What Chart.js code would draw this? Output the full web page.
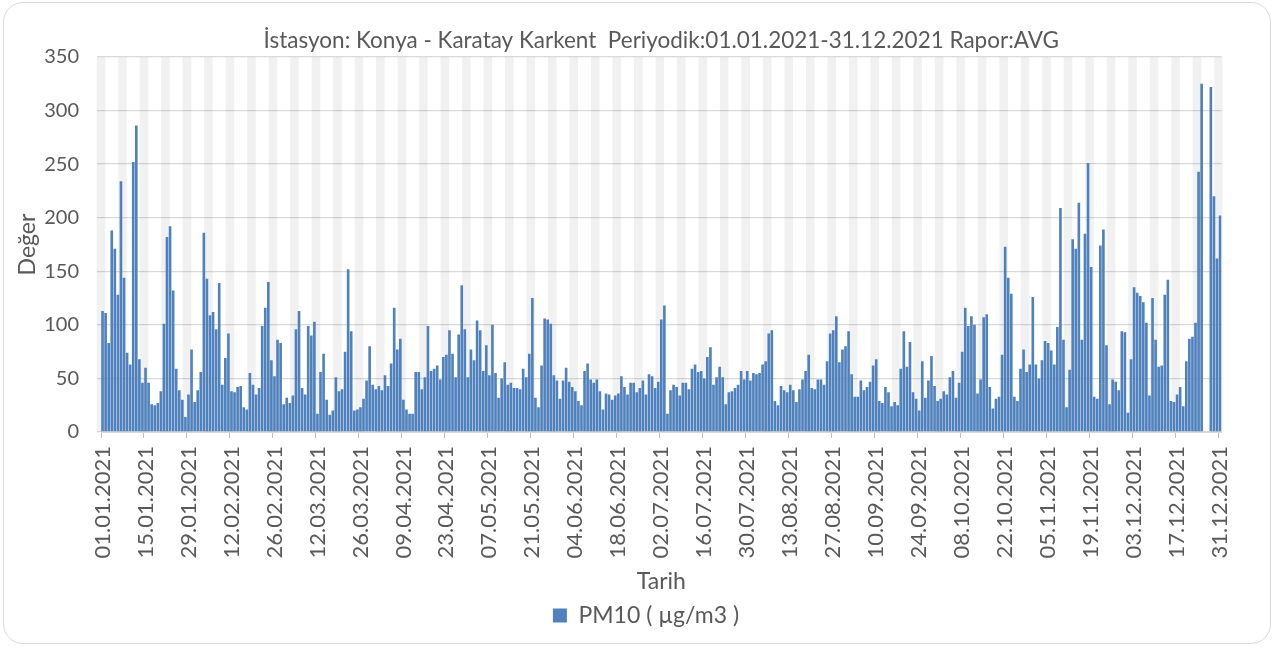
<!DOCTYPE html>
<html>
<head>
<meta charset="utf-8">
<script src="https://cdn.jsdelivr.net/npm/chart.js@4.4.1/dist/chart.umd.min.js"></script>
<style>
html, body { margin: 0; padding: 0; background: #fff; }
#frame { position: absolute; left: 3px; top: 2px; width: 1268px; height: 642px; border: 1px solid #d9d9d9; border-radius: 20px; box-sizing: border-box; }
#wrap { position: absolute; left: 0; top: 0; width: 1274px; height: 647px; }
</style>
</head>
<body>
<div id="frame"></div>
<div id="wrap"><canvas id="mycanvas" width="1274" height="647"></canvas></div>
<script>
var chartTitle = 'İstasyon: Konya - Karatay Karkent  Periyodik:01.01.2021-31.12.2021 Rapor:AVG';
var seriesName = 'PM10 ( µg/m3 )';

// shown date ticks (every 14 days)
var tickLabels = ['01.01.2021','15.01.2021','29.01.2021','12.02.2021','26.02.2021','12.03.2021','26.03.2021',
  '09.04.2021','23.04.2021','07.05.2021','21.05.2021','04.06.2021','18.06.2021','02.07.2021','16.07.2021',
  '30.07.2021','13.08.2021','27.08.2021','10.09.2021','24.09.2021','08.10.2021','22.10.2021','05.11.2021',
  '19.11.2021','03.12.2021','17.12.2021','31.12.2021'];

// daily PM10 averages, 01.01.2021 - 31.12.2021 (null = no data)
var pm10 = [
  113,111,83,188,171,128,234,144,74,63,252,286,68,46,60,46,26,25,27,38,101,182,192,132,59,39,30,14,35,77,28,39,56,186,143,109,
  112,96,139,44,69,92,38,37,42,43,23,21,55,44,35,41,99,116,140,67,52,86,83,26,32,27,34,96,113,41,35,99,90,103,17,56,73,
  30,16,20,51,38,40,75,152,94,20,21,23,31,48,80,44,40,43,39,53,43,64,116,77,87,30,21,17,17,56,56,40,51,99,57,59,
  62,49,70,72,95,73,51,91,137,96,51,77,67,104,95,57,81,53,100,55,32,50,65,44,46,41,41,40,59,51,73,125,32,23,62,106,105,
  101,53,48,31,48,60,47,42,38,29,25,57,64,49,46,49,38,21,36,35,30,34,36,52,42,35,46,46,37,41,48,35,54,52,41,47,105,
  118,17,39,44,42,34,46,46,40,59,63,56,57,50,70,79,44,51,61,51,26,37,38,41,44,57,49,57,48,55,54,55,63,66,92,95,
  29,25,43,39,37,44,39,28,40,49,57,72,41,40,49,49,44,66,92,95,108,65,77,80,94,54,33,33,48,39,42,47,62,68,29,27,
  42,37,24,28,25,59,94,61,84,37,31,20,66,32,48,71,43,29,31,38,35,51,57,32,46,75,116,99,108,100,36,49,107,110,42,22,31,
  33,72,173,144,129,33,29,59,77,56,63,126,63,50,67,85,83,76,63,98,209,86,23,58,180,171,214,86,185,251,154,33,31,174,189,81,
  26,49,47,39,94,93,18,68,135,130,127,121,102,34,125,86,61,62,128,142,29,28,35,42,24,66,87,89,102,243,325,null,null,322,220,162,202
];

// light grey background bands (day index of band centre)
var bandAt = [-0.5,6.5,13.5,20.5,27.5,34.5,41.5,48.5,55.5,62.5,69.5,76.5,83.5,90.5,97.5,104.5,111.5,118.5,125.5,
  132.5,139.5,146.5,153.5,160.5,167.5,174.5,181.5,188.5,195.5,202.5,209.5,216.5,223.5,230.5,237.5,244.5,251.5,
  258.5,265.5,272.5,279.5,286.5,293.5,300.5,307.5,314.5,321.5,328.5,335.5,342.5,349.5,356.5,363.5];
var bandTop = 350;

var days = [];
var d = new Date(2021, 0, 1);
for (var i = 0; i < pm10.length; i++) {
  var dd = ('0' + d.getDate()).slice(-2), mm = ('0' + (d.getMonth() + 1)).slice(-2);
  days.push(dd + '.' + mm + '.' + d.getFullYear());
  d.setDate(d.getDate() + 1);
}

var txt = '#595959';
var fam = 'Lato, "Open Sans", sans-serif';
Chart.defaults.font.family = fam;
Chart.defaults.color = txt;

var padBottom = 10;
var padLeft = 18;

var ctx = document.getElementById('mycanvas');
var barGraph = new Chart(ctx, {
  type: 'bar',
  data: {
    labels: days,
    datasets: [
      {
        label: seriesName,
        data: pm10,
        backgroundColor: '#4f81bd',
        barPercentage: 0.86,
        categoryPercentage: 1,
        grouped: false,
        order: 1,
        xAxisID: 'x'
      },
      {
        label: 'band',
        data: bandAt.map(function (v) { return { x: v, y: bandTop }; }),
        backgroundColor: 'rgba(0,0,0,0.055)',
        barThickness: 8,
        grouped: false,
        order: 2,
        xAxisID: 'x2',
        clip: { left: 5, top: 0, right: 1, bottom: 0 }
      }
    ]
  },
  options: {
    responsive: false,
    animation: false,
    devicePixelRatio: 1,
    layout: { padding: { left: padLeft, right: 0, top: 0, bottom: padBottom } },
    plugins: {
      tooltip: { enabled: false },
      title: {
        display: true,
        fullSize: false,
        text: chartTitle,
        color: txt,
        font: { size: 22.5, weight: 'normal' },
        padding: { top: 27, bottom: 3 }
      },
      legend: {
        position: 'bottom',
        labels: {
          color: txt,
          font: { size: 23 },
          boxWidth: 14,
          boxHeight: 14,
          padding: 9,
          filter: function (item) { return item.datasetIndex === 0; }
        }
      }
    },
    scales: {
      x: {
        type: 'category',
        offset: true,
        ticks: {
          autoSkip: false,
          minRotation: 90,
          maxRotation: 90,
          padding: 8,
          color: txt,
          font: { size: 22 },
          callback: function (val, idx) {
            var lab = this.getLabelForValue(val);
            return tickLabels.indexOf(lab) >= 0 ? lab : '';
          }
        },
        grid: {
          offset: true,
          drawOnChartArea: false,
          drawTicks: true,
          tickLength: 6,
          color: function (c) { return c.index % 14 === 0 ? '#bfbfbf' : 'rgba(0,0,0,0)'; }
        },
        border: { display: true, color: '#d9d9d9' },
        title: { display: true, text: 'Tarih', color: txt, font: { size: 23 }, padding: { top: 0, bottom: 0 } },
        afterFit: function (s) {
          s.height = s.chart.height - padBottom - s.chart.legend.height - 432;
        }
      },
      x2: {
        type: 'linear',
        display: false,
        min: -0.5,
        max: 364.5,
        offset: false
      },
      y: {
        min: 0,
        max: 350,
        ticks: { stepSize: 50, padding: 18, color: txt, font: { size: 20 } },
        grid: { color: '#d9d9d9', lineWidth: 1.3, tickLength: 4, drawTicks: true },
        border: { display: false },
        title: { display: true, text: 'Değer', color: txt, font: { size: 23 }, padding: { top: -4, bottom: 0 } },
        afterFit: function (s) { s.width = 101 - padLeft; }
      },
      yR: {
        position: 'right',
        display: true,
        ticks: { display: false },
        grid: { display: false, drawOnChartArea: false },
        border: { display: false },
        afterFit: function (s) { s.width = 52.4; }
      }
    }
  }
});
</script>
</body>
</html>
